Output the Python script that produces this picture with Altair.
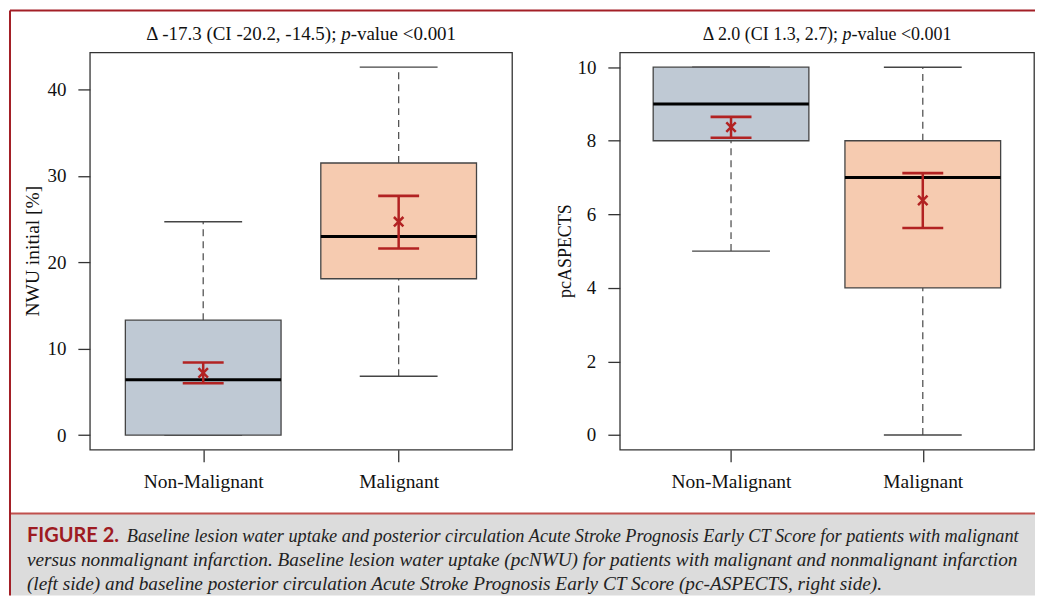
import altair as alt
import pandas as pd

groups = ["Non-Malignant", "Malignant"]
box_colors = ["#bfc9d4", "#f6cbb0"]

# Left panel: NWU initial [%]
nwu_q1 = [0.0, 18.1]
nwu_median = [6.4, 23.0]
nwu_q3 = [13.3, 31.5]
nwu_wlo = [0.0, 6.8]
nwu_whi = [24.7, 42.6]
nwu_mean = [7.2, 24.7]
nwu_ci_lo = [6.0, 21.6]
nwu_ci_hi = [8.4, 27.7]
nwu_ticks = [0, 10, 20, 30, 40]
nwu_domain = [-1.7, 44.3]

# Right panel: pcASPECTS
asp_q1 = [8, 4]
asp_median = [9, 7]
asp_q3 = [10, 8]
asp_wlo = [5, 0]
asp_whi = [10, 10]
asp_mean = [8.37, 6.38]
asp_ci_lo = [8.08, 5.63]
asp_ci_hi = [8.65, 7.12]
asp_ticks = [0, 2, 4, 6, 8, 10]
asp_domain = [-0.4, 10.4]

left_title = ["\u0394 -17.3 (CI -20.2, -14.5);", "p", "-value <0.001"]
right_title = ["\u0394 2.0 (CI 1.3, 2.7);", "p", "-value <0.001"]
left_ytitle = "NWU initial [%]"
right_ytitle = "pcASPECTS"

caption_head = "FIGURE 2."
caption_lines = [
    "Baseline lesion water uptake and posterior circulation Acute Stroke Prognosis Early CT Score for patients with malignant",
    "versus nonmalignant infarction. Baseline lesion water uptake (pcNWU) for patients with malignant and nonmalignant infarction",
    "(left side) and baseline posterior circulation Acute Stroke Prognosis Early CT Score (pc-ASPECTS, right side).",
]

SERIF = "Liberation Serif"
RED = "#b22222"
H = 398


def one(text):
    return pd.DataFrame({"t": [text]})


def text_layer(text, x, y, **kw):
    return alt.Chart(one(text)).mark_text(**kw).encode(
        x=alt.value(x), y=alt.value(y), text=alt.Text("t:N")
    )


def panel(q1, med, q3, wlo, whi, mean, cilo, cihi, ticks, domain):
    df = pd.DataFrame({
        "group": groups, "q1": q1, "median": med, "q3": q3, "wlo": wlo,
        "whi": whi, "mean": mean, "cilo": cilo, "cihi": cihi,
    })
    xenc = alt.X(
        "group:N", sort=groups,
        scale=alt.Scale(type="point", padding=0.58, domain=groups),
        axis=alt.Axis(title=None, domain=False, grid=False, tickSize=12,
                      tickColor="#333", tickWidth=1.3, labelAngle=0,
                      labelFont=SERIF, labelFontSize=19.5, labelColor="#111",
                      labelPadding=11),
    )
    yscale = alt.Scale(domain=domain, nice=False, zero=False)
    yaxis = alt.Axis(title=None, domain=False, grid=False, values=ticks,
                     tickSize=12, tickColor="#333", tickWidth=1.3,
                     labelFont=SERIF, labelFontSize=19, labelColor="#111",
                     labelPadding=12)

    def Y(f):
        return alt.Y(f, scale=yscale, axis=yaxis)

    base = alt.Chart(df).encode(x=xenc)
    whisk_up = base.mark_rule(strokeDash=[7, 5], color="#555", strokeWidth=1.3).encode(
        y=Y("q3:Q"), y2="whi:Q")
    whisk_dn = base.mark_rule(strokeDash=[7, 5], color="#555", strokeWidth=1.3).encode(
        y=Y("wlo:Q"), y2="q1:Q")
    cap_hi = base.mark_tick(size=78, thickness=1.4, color="#444", opacity=1).encode(y=Y("whi:Q"))
    cap_lo = base.mark_tick(size=78, thickness=1.4, color="#444", opacity=1).encode(y=Y("wlo:Q"))
    box = base.mark_bar(size=156, stroke="#444", strokeWidth=1.3, opacity=1).encode(
        y=Y("q1:Q"), y2="q3:Q",
        fill=alt.Fill("group:N", scale=alt.Scale(domain=groups, range=box_colors), legend=None),
    )
    median = base.mark_tick(size=156, thickness=3, color="#000", opacity=1).encode(y=Y("median:Q"))
    ci = base.mark_rule(color=RED, strokeWidth=2.5, opacity=1).encode(y=Y("cilo:Q"), y2="cihi:Q")
    ci_lo = base.mark_tick(size=41, thickness=2.6, color=RED, opacity=1).encode(y=Y("cilo:Q"))
    ci_hi = base.mark_tick(size=41, thickness=2.6, color=RED, opacity=1).encode(y=Y("cihi:Q"))
    mean_pt = base.mark_point(shape="M-1,-1L1,1M-1,1L1,-1", size=90, stroke=RED,
                              strokeWidth=2.5, filled=False, opacity=1).encode(y=Y("mean:Q"))
    return [whisk_up, whisk_dn, cap_hi, cap_lo, box, median, ci, ci_lo, ci_hi, mean_pt]


def title_layers(parts, size, width, pre_em, total_em):
    c = width / 2
    X = c - total_em * size / 2 + pre_em * size
    common = dict(font=SERIF, fontSize=size, color="#111", baseline="alphabetic")
    return [
        text_layer(parts[0], X, -13, align="right", **common),
        text_layer(parts[1], X + 0.25 * size, -13, align="left", fontStyle="italic", **common),
        text_layer(parts[2], X + 0.75 * size, -13, align="left", **common),
    ]


LW, RW, GAP = 423, 415, 108

left_layers = panel(nwu_q1, nwu_median, nwu_q3, nwu_wlo, nwu_whi, nwu_mean,
                    nwu_ci_lo, nwu_ci_hi, nwu_ticks, nwu_domain)
right_layers = panel(asp_q1, asp_median, asp_q3, asp_wlo, asp_whi, asp_mean,
                     asp_ci_lo, asp_ci_hi, asp_ticks, asp_domain)

left_text = title_layers(left_title, 19, LW, 10.055, 16.368) + [
    text_layer(left_ytitle, -51, H / 2, angle=270, align="center", baseline="alphabetic",
               font=SERIF, fontSize=19.5, color="#111"),
]
right_text = title_layers(right_title, 18, RW, 7.556, 13.869) + [
    text_layer(right_ytitle, -49, H / 2, angle=270, align="center", baseline="alphabetic",
               font=SERIF, fontSize=18, color="#111"),
]

# Figure frame and caption (drawn relative to the left plot area)
BL, BT, BR, BB = -80, -42, 947, 544
CAP_TOP = 462
cap_common = dict(align="left", baseline="alphabetic", font=SERIF, fontStyle="italic", color="#222")
frame_layers = [
    alt.Chart(one("")).mark_rect(fill="#dcdcdc").encode(
        x=alt.value(BL), x2=alt.value(BR), y=alt.value(CAP_TOP), y2=alt.value(BB)),
    alt.Chart(one("")).mark_rule(color="#c0504d", strokeWidth=2).encode(
        x=alt.value(BL), x2=alt.value(BR), y=alt.value(CAP_TOP)),
    alt.Chart(one("")).mark_rule(color="#a31f26", strokeWidth=2).encode(
        x=alt.value(BL), x2=alt.value(BR), y=alt.value(BT)),
    alt.Chart(one("")).mark_rule(color="#a31f26", strokeWidth=2).encode(
        x=alt.value(BL), y=alt.value(BT), y2=alt.value(BB)),
    text_layer(caption_head, -63, 490, align="left", baseline="alphabetic",
               font="Lato", fontWeight="bold", fontSize=20, color="#9e1b22"),
    text_layer(caption_lines[0], 37, 490, fontSize=18.3, **cap_common),
    text_layer(caption_lines[1], -63, 515, fontSize=19.3, **cap_common),
    text_layer(caption_lines[2], -63, 539, fontSize=19.3, **cap_common),
]

left = alt.layer(*frame_layers, *left_layers, *left_text).properties(width=LW, height=H)
right = alt.layer(*right_layers, *right_text).properties(width=RW, height=H)

chart = alt.hconcat(left, right, spacing=GAP, bounds="flush").properties(
    padding=0
).configure_view(stroke="#333", strokeWidth=1.3)

chart.save("out.html", embed_options={"renderer": "svg", "actions": False})
